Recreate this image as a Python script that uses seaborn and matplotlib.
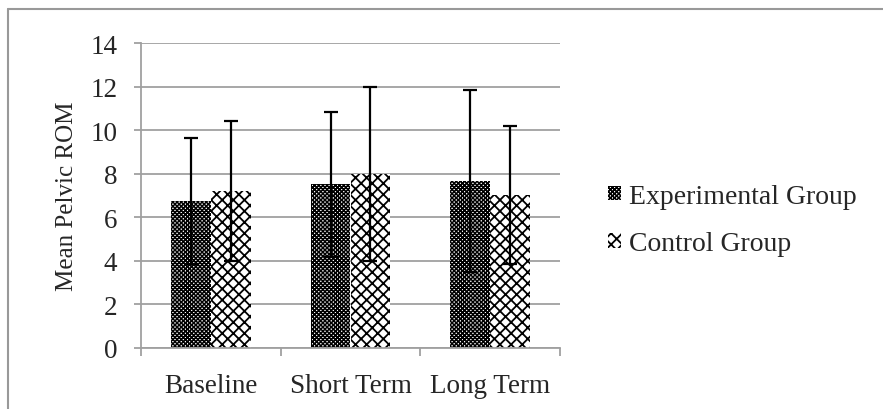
import matplotlib
import numpy as np
import pandas as pd
import seaborn as sns
from matplotlib import pyplot as plt
from matplotlib.lines import Line2D

matplotlib.use("Agg")

# chart values
phases = ["Baseline", "Short Term", "Long Term"]
groups = ["Experimental Group", "Control Group"]
experimental_mean = [6.75, 7.52, 7.65]
experimental_err = [2.9, 3.33, 4.17]
control_mean = [7.22, 7.98, 7.03]
control_err = [3.22, 4.0, 3.17]
y_ticks = [0, 2, 4, 6, 8, 10, 12, 14]

df = pd.DataFrame(
    {
        "phase": phases * 2,
        "group": [groups[0]] * 3 + [groups[1]] * 3,
        "mean": experimental_mean + control_mean,
        "err": experimental_err + control_err,
    }
)

sns.set_style("white")
plt.rcParams["font.family"] = ["Liberation Serif", "DejaVu Serif"]
plt.rcParams["hatch.linewidth"] = 1.2

grid_grey = "#a0a0a0"
fig = plt.figure(figsize=(8.83, 4.10), dpi=100)
ax = fig.add_axes([141 / 883, 1 - 349 / 410, 419 / 883, 305 / 410])

sns.barplot(
    data=df,
    x="phase",
    y="mean",
    hue="group",
    order=phases,
    hue_order=groups,
    palette=["white", "white"],
    width=0.572,
    gap=0,
    errorbar=None,
    edgecolor="black",
    linewidth=0,
    ax=ax,
)

hatches = {groups[0]: "xxxxxxxx", groups[1]: "xxx"}
hatch_lw = {groups[0]: 1.1, groups[1]: 1.3}


def style_patch(p, g):
    p.set_hatch(hatches[g])
    p.set_edgecolor("black")
    p.set_linewidth(0)
    if hasattr(p, "set_hatch_linewidth"):
        p.set_hatch_linewidth(hatch_lw[g])


for container, g in zip(ax.containers, groups):
    sub = df[df["group"] == g].set_index("phase").loc[phases]
    xs = []
    for bar in container:
        style_patch(bar, g)
        xs.append(bar.get_x() + bar.get_width() / 2)
    ax.errorbar(
        xs,
        sub["mean"].values,
        yerr=sub["err"].values,
        fmt="none",
        ecolor="black",
        elinewidth=1.6,
        capsize=4.7,
        capthick=1.6,
        zorder=5,
    )

ax.set_ylim(0, 14)
ax.set_xlim(-0.5, 2.5)
ax.set_yticks(y_ticks)
ax.set_yticklabels([str(t) for t in y_ticks])
ax.yaxis.grid(True, color=grid_grey, linewidth=1.3)
ax.set_axisbelow(True)
for s in ["top", "right"]:
    ax.spines[s].set_visible(False)
for s in ["left", "bottom"]:
    ax.spines[s].set_color(grid_grey)
    ax.spines[s].set_linewidth(1.3)

ax.tick_params(axis="y", left=True, length=5, width=1.3, color=grid_grey,
               labelsize=19.5, pad=12)
ax.tick_params(axis="x", bottom=False, length=0, labelsize=19.5, pad=18)
ax.set_xticks(np.arange(-0.5, 3, 1.0), minor=True)
ax.tick_params(axis="x", which="minor", bottom=True, length=6, width=1.3,
               color=grid_grey)
ax.set_xlabel("")
ax.set_ylabel("Mean Pelvic ROM", fontsize=18)
ax.yaxis.set_label_coords(-0.15, 0.5)

leg = ax.legend(
    loc="center left",
    bbox_to_anchor=(608 / 883, 1 - 221 / 410),
    bbox_transform=fig.transFigure,
    frameon=False,
    fontsize=20,
    handlelength=0.45,
    handleheight=0.45,
    handletextpad=0.3,
    labelspacing=0.8,
    borderaxespad=0,
    borderpad=0,
)
for h, g in zip(leg.legend_handles, groups):
    style_patch(h, g)

# outer chart border (top and left edges)
fig.add_artist(Line2D([8 / 883, 8 / 883], [0, 1 - 10 / 410], color="#999999",
                      linewidth=1.5, transform=fig.transFigure))
fig.add_artist(Line2D([8 / 883, 1], [1 - 10 / 410, 1 - 10 / 410], color="#999999",
                      linewidth=1.5, transform=fig.transFigure))

fig.savefig("out.png", dpi=100)
